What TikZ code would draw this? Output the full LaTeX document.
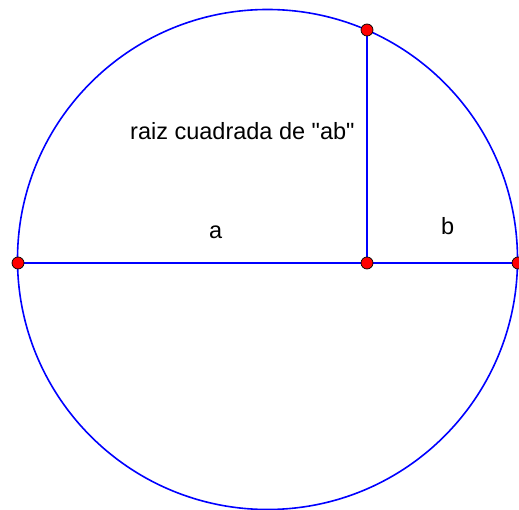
\documentclass[tikz,border=0pt]{standalone}
\usepackage{fontspec}
\newfontfamily\lsans{Liberation Sans}
\begin{document}
\begin{tikzpicture}[x=1pt,y=-1pt,
 geo/.style={draw=blue, line width=1.6pt},
 gpt/.style={circle, fill=red, draw=black, line width=0.7pt, inner sep=0pt, minimum size=12pt},
 lbl/.style={font=\lsans\fontsize{23.5}{27}\selectfont, inner sep=0pt, anchor=base west}]
\useasboundingbox (0,0) rectangle (519,510);
\coordinate (O) at (267.5,259.5);
\coordinate (A) at (18,263);
\coordinate (B) at (518,263);
\coordinate (M) at (367,263);
\coordinate (T) at (367,30);
\draw[geo] (O) circle[radius=250];
\draw[geo] (A) -- (B);
\draw[geo] (M) -- (T);
\node[gpt] (nA) at (A) {};
\node[gpt] (nB) at (B) {};
\node[gpt] (nM) at (M) {};
\node[gpt] (nT) at (T) {};
\node[lbl] (t1) at (130,140) {raiz cuadrada de "ab"};
\node[lbl] (ta) at (209,239) {a};
\node[lbl] (tb) at (441,235) {b};
\end{tikzpicture}
\end{document}
